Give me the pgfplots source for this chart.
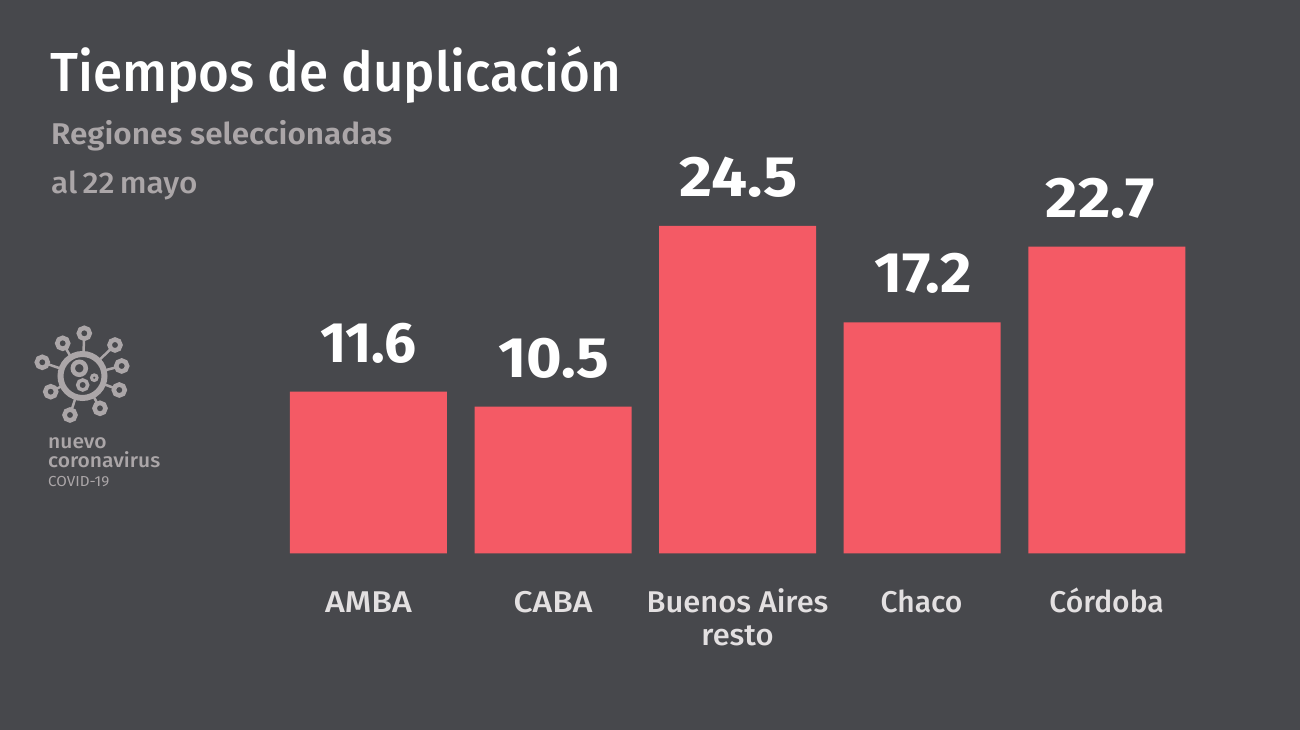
\documentclass[border=0pt]{standalone}
\usepackage{pgfplots}
\usepackage{fontspec}
\pgfplotsset{compat=1.18}
\setmainfont{Fira Sans}
\newfontfamily\med{Fira Sans Medium}
\newfontfamily\semi{Fira Sans SemiBold}
\definecolor{fondo}{HTML}{47484C}
\definecolor{barra}{HTML}{F45A65}
\definecolor{gris}{HTML}{ABA6A8}
\definecolor{rotulo}{HTML}{E3E0E1}
% \an{width}{shift x 2}{printed number}
\protected\def\an#1#2#3{\hspace*{#2pt}\scalebox{#1}[1]{#3}}
% alto = bar height as drawn in the picture (not quite to scale with the printed number)
\pgfplotstableread{
x alto rotulo
0 12.10 \an{0.995}{0}{11.6}
1 10.97 \an{1.07}{2}{10.5}
2 24.50 \an{1.12}{2}{24.5}
3 17.29 \an{1.065}{2}{17.2}
4 22.95 \an{1.10}{-13}{22.7}
}\datos
\begin{document}
\begin{tikzpicture}[x=1pt,y=1pt]
\fill[fondo] (0,0) rectangle (1300,730);
\begin{axis}[
  at={(0pt,0pt)}, anchor=south west,
  scale only axis, width=1300pt, height=730pt,
  xmin=-1.9957, xmax=5.0466,
  ymin=-13.226, ymax=41.415,
  axis lines=none, clip=false,
  ybar, bar width=157pt,
  nodes near coords,
  point meta=explicit symbolic,
  every node near coord/.append style={text=white, font=\fontsize{57}{57}\selectfont\bfseries, inner sep=0pt, anchor=base, yshift=29.5pt},
]
\addplot[fill=barra, draw=none] table[x=x, y=alto, meta=rotulo] {\datos};
\end{axis}
\begin{scope}[x=1pt,y=-1pt,shift={(0pt,730pt)}]
  \node[anchor=base west, inner sep=0pt, text=white, font=\fontsize{55}{55}\selectfont\med] at (50,92) {\scalebox{0.961}[1]{Tiempos de duplicación}};
  \node[anchor=base west, inner sep=0pt, text=gris, font=\fontsize{30}{30}\selectfont\semi] at (51,145) {\scalebox{1.05}[1]{Regiones seleccionadas}};
  \node[anchor=base west, inner sep=0pt, text=gris, font=\fontsize{30}{30}\selectfont\med] at (51,194) {\scalebox{1.05}[1]{al\hskip5pt 22\hskip5pt mayo}};
  \foreach \px/\txt/\ancholab in {368.5/AMBA/1.13,553/CABA/1.12,737.5/Buenos Aires/1.03,921.5/Chaco/1.0,1106.5/Córdoba/1.0}
    \node[anchor=base, inner sep=0pt, text=rotulo, font=\fontsize{30}{30}\selectfont\med] at (\px,613) {\scalebox{\ancholab}[1]{\txt}};
  \node[anchor=base, inner sep=0pt, text=rotulo, font=\fontsize{30}{30}\selectfont\med] at (737.5,646) {\scalebox{1.03}[1]{resto}};
  % virus icon
  \begin{scope}[draw=gris]
    \foreach \ex/\ey in {84.3/333.3,62.7/343.3,115/345,42.3/362.3,121.7/366,50.7/391.7,119.3/390,70/415,100/408.3}{
      \draw[line width=2.5pt] (82.5,376) -- (\ex,\ey);
      \filldraw[fill=fondo, line width=4.5pt] (\ex,\ey) circle (5.5);
    }
    \filldraw[fill=fondo, line width=6pt] (82.5,376) circle (22);
    \draw[line width=4.5pt] (79.3,368.3) circle (6.5);
    \draw[line width=3.5pt] (82.7,385) circle (5);
    \draw[line width=3pt] (94.3,377.7) circle (2.8);
  \end{scope}
  \node[anchor=base west, inner sep=0pt, text=gris, font=\fontsize{20}{20}\selectfont\med] at (48,449) {\scalebox{1.05}[1]{nuevo}};
  \node[anchor=base west, inner sep=0pt, text=gris, font=\fontsize{20}{20}\selectfont\med] at (48,468) {\scalebox{1.05}[1]{coronavirus}};
  \node[anchor=base west, inner sep=0pt, text=gris, font=\fontsize{14.5}{14.5}\selectfont] at (48,487) {\scalebox{1.05}[1]{COVID-19}};
\end{scope}
\end{tikzpicture}
\end{document}
